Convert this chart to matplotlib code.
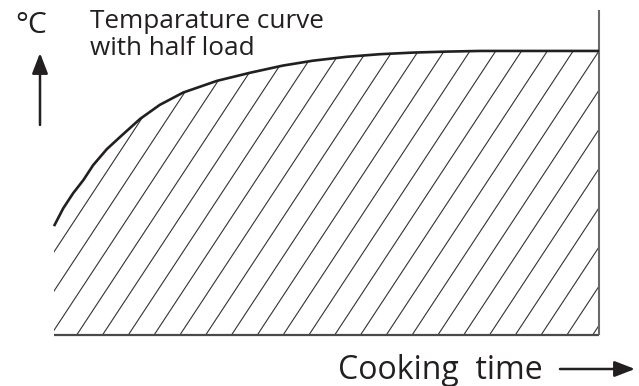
import numpy as np
import matplotlib
matplotlib.use("Agg")
import matplotlib.pyplot as plt
from matplotlib.collections import LineCollection
from matplotlib.patches import Polygon

# Temperature curve with half load (time and temperature in % of full scale)
time_pct = [0.0, 1.7, 3.5, 5.4, 7.2, 9.7, 12.1, 15.8, 19.4, 23.7, 26.8, 29.9, 36.0,
            42.0, 47.5, 53.7, 59.8, 65.9, 72.1, 78.2, 100.0]
temp_pct = [33.5, 39.0, 43.6, 47.7, 52.3, 57.2, 60.9, 66.5, 70.8, 74.6, 76.4, 78.2, 80.7,
            82.9, 84.4, 85.6, 86.4, 86.9, 87.2, 87.4, 87.4]

title_lines = ["Temparature curve", "with half load"]
y_label = "°C"
x_label = "Cooking  time"

INK = "#231f20"
W, H = 639, 386
fig = plt.figure(figsize=(W / 100, H / 100), dpi=100)
plt.rcParams["font.family"] = ["Open Sans", "DejaVu Sans"]

# plotting area in pixels: x 54..599, y 10..335 (from top)
left, right, top, bottom = 54, 599, 10, 335
ax = fig.add_axes([left / W, 1 - bottom / H, (right - left) / W, (bottom - top) / H])
ax.set_xlim(0, 100)
ax.set_ylim(0, 100)
ax.axis("off")

# region under the curve, used to clip the hatch
poly_xy = np.column_stack([time_pct + [100.0, 0.0], temp_pct + [0.0, 0.0]])
region = Polygon(poly_xy, closed=True, facecolor="none", edgecolor="none")
ax.add_patch(region)

# diagonal hatch lines
px_x = 100 / (right - left)
px_y = 100 / (bottom - top)
slope = 1.52 * px_y / px_x          # rise over run in data units
spacing = 25.8 * px_x               # horizontal distance between lines
offset = (76.7 - left) * px_x       # first line crossing at the base
starts = np.arange(offset - 10 * spacing, 100 + spacing, spacing)
segs = [[(s, 0), (s + 100 / slope, 100)] for s in starts]
hatch = LineCollection(segs, colors="#333333", linewidths=0.8)
hatch.set_clip_path(region)
ax.add_collection(hatch)

# base line and right-hand boundary
ax.plot([0, 100], [0, 0], color="#4a4a4a", lw=1.6, solid_capstyle="butt", clip_on=False)
ax.plot([100, 100], [0, 100], color="#6a6a6a", lw=1.5, solid_capstyle="butt", clip_on=False)

# the curve
ax.plot(time_pct, temp_pct, color=INK, lw=1.9, solid_capstyle="butt",
        solid_joinstyle="round", clip_on=False)

# texts
fig.text(15 / W, 1 - 33 / H, y_label, fontsize=21.5, color=INK, va="baseline", ha="left")
fig.text(90 / W, 1 - 28 / H, title_lines[0], fontsize=18.8, color=INK, va="baseline", ha="left")
fig.text(90 / W, 1 - 55 / H, title_lines[1], fontsize=18.8, color=INK, va="baseline", ha="left")
fig.text(338 / W, 1 - 379 / H, x_label, fontsize=23, color=INK, va="baseline", ha="left")

# axis arrows
arrow = dict(arrowstyle="-|>,head_length=0.62,head_width=0.24", lw=1.8, color=INK,
             shrinkA=0, shrinkB=0, mutation_scale=20)
ax.annotate("", xy=(40, H - 53), xytext=(40, H - 125), xycoords="figure pixels",
            textcoords="figure pixels", arrowprops=arrow, annotation_clip=False)
ax.annotate("", xy=(635, H - 369), xytext=(560, H - 369), xycoords="figure pixels",
            textcoords="figure pixels", arrowprops=arrow, annotation_clip=False)

fig.savefig("out.png", dpi=100)
